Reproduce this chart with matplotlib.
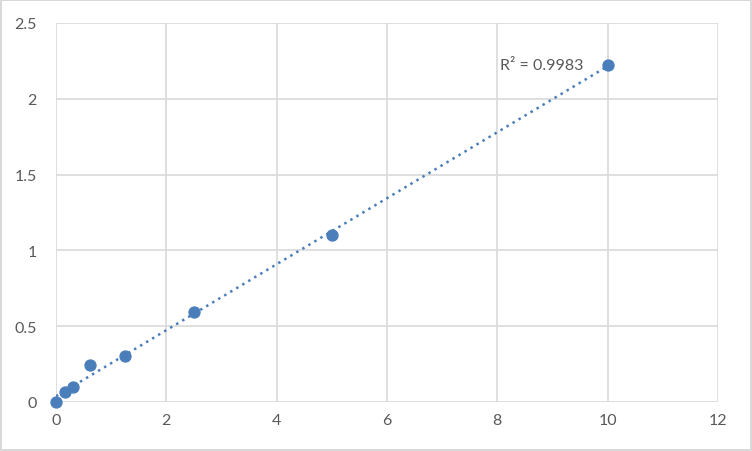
import numpy as np
import matplotlib.pyplot as plt
from matplotlib.ticker import FuncFormatter

# datos de la curva estándar
concentracion = [0, 0.156, 0.3125, 0.625, 1.25, 2.5, 5, 10]
absorbancia = [0.0, 0.065, 0.1, 0.243, 0.302, 0.592, 1.1, 2.223]
x_ticks = [0, 2, 4, 6, 8, 10, 12]
y_ticks = [0, 0.5, 1, 1.5, 2, 2.5]
texto_r2 = "R² = 0.9983"

azul = '#4a7ebb'
gris_texto = '#595959'
gris_linea = '#d9d9d9'

fig = plt.figure(figsize=(7.52, 4.52), dpi=100)
fig.patch.set_edgecolor(gris_linea)
fig.patch.set_linewidth(1.5)
ax = fig.add_axes([56 / 752, 49 / 452, 662 / 752, 379 / 452])

# línea de tendencia lineal
pendiente, corte = np.polyfit(concentracion, absorbancia, 1)
xs = np.array([min(concentracion), max(concentracion)])
ax.plot(xs, pendiente * xs + corte, color=azul, linewidth=1.8,
        linestyle=(0, (1, 1.8)), zorder=3)

ax.scatter(concentracion, absorbancia, s=62, color=azul, zorder=4,
           clip_on=False)

ax.annotate(texto_r2, (concentracion[-1], absorbancia[-1]),
            xytext=(-24, 0), textcoords='offset pixels', ha='right',
            va='center', fontsize=11.5, color=gris_texto, family='Lato')

ax.set_xlim(0, 12)
ax.set_ylim(0, 2.5)
ax.set_xticks(x_ticks)
ax.set_yticks(y_ticks)
ax.yaxis.set_major_formatter(FuncFormatter(lambda v, p: f"{v:g}"))
ax.grid(True, color=gris_linea, linewidth=1.2)
ax.set_axisbelow(True)
for s in ax.spines.values():
    s.set_visible(False)
ax.tick_params(length=0, colors=gris_texto, labelsize=11.5)
ax.tick_params(axis='y', pad=14)
ax.tick_params(axis='x', pad=8)
for lbl in ax.get_xticklabels() + ax.get_yticklabels():
    lbl.set_family('Lato')

fig.savefig('out.png', dpi=100)
